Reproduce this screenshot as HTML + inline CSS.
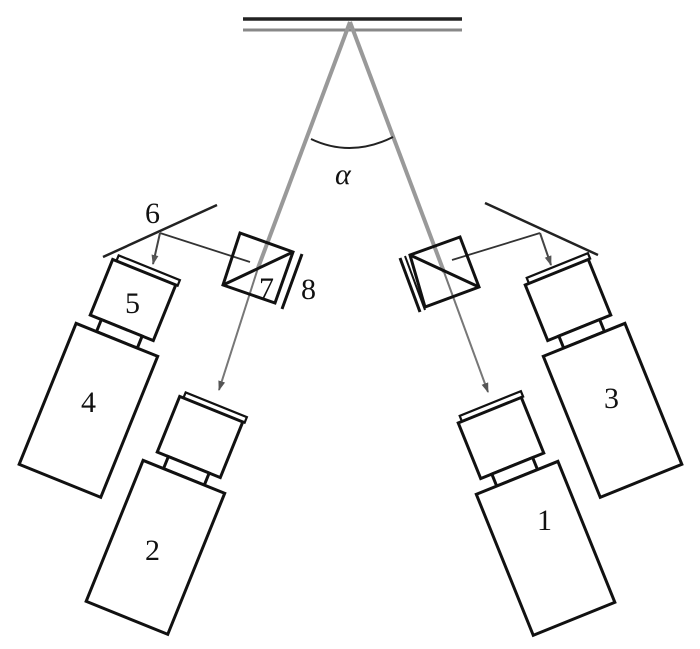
<!DOCTYPE html>
<html><head><meta charset="utf-8"><style>
html,body{margin:0;padding:0;background:#fff;width:700px;height:649px;overflow:hidden}
text{font-family:"Liberation Serif",serif;font-size:30px;fill:#111}
</style></head><body>
<svg width="700" height="649" viewBox="0 0 700 649" xmlns="http://www.w3.org/2000/svg">
<defs>
<marker id="ah" markerWidth="10" markerHeight="14" refX="9" refY="4" orient="auto" markerUnits="userSpaceOnUse" viewBox="0 0 10 8">
<path d="M0,0.5 L10,4 L0,7.5 Z" fill="#555"/></marker>
<g id="cam" fill="#fff" stroke="#111" stroke-width="3">
<rect x="-30" y="-36" width="66" height="6" stroke-width="2.2"/>
<rect x="-34" y="-30" width="68" height="60"/>
<rect x="-22" y="30" width="44" height="13"/>
<rect x="-44" y="43" width="88" height="152"/>
</g>
</defs>
<line x1="243" y1="19" x2="462" y2="19" stroke="#222" stroke-width="3.5"/>
<line x1="243" y1="30" x2="462" y2="30" stroke="#888" stroke-width="3"/>
<g transform="translate(200,437) rotate(22)"><use href="#cam"/></g>
<g transform="translate(133,300) rotate(22)"><use href="#cam"/></g>
<g transform="translate(501,438) rotate(-22)"><use href="#cam"/></g>
<g transform="translate(568,300) rotate(-22)"><use href="#cam"/></g>
<line x1="350" y1="22" x2="258" y2="268" stroke="#999" stroke-width="4"/>
<line x1="350" y1="22" x2="444" y2="272" stroke="#999" stroke-width="4"/>
<line x1="258" y1="268" x2="219" y2="390" stroke="#777" stroke-width="2" marker-end="url(#ah)"/>
<line x1="444" y1="272" x2="488" y2="392" stroke="#777" stroke-width="2" marker-end="url(#ah)"/>
<path d="M311,139 Q351,158 393,137" fill="none" stroke="#222" stroke-width="2"/>
<line x1="103" y1="257" x2="217" y2="205" stroke="#222" stroke-width="2.5"/>
<line x1="485" y1="203" x2="598" y2="255" stroke="#222" stroke-width="2.5"/>
<line x1="160" y1="233" x2="250" y2="262" stroke="#333" stroke-width="1.8"/>
<line x1="160" y1="233" x2="153" y2="264" stroke="#444" stroke-width="2" marker-end="url(#ah)"/>
<line x1="540" y1="233" x2="452" y2="260" stroke="#333" stroke-width="1.8"/>
<line x1="540" y1="233" x2="551" y2="265" stroke="#444" stroke-width="2" marker-end="url(#ah)"/>
<g stroke="#111" stroke-width="3" fill="none">
<polygon points="240,233 293,252 275,303 223,285"/>
<line x1="223" y1="285" x2="293" y2="252"/>
<line x1="302" y1="254" x2="282" y2="309"/>
<polygon points="410,255 460,237 479,287 425,307"/>
<line x1="410" y1="255" x2="479" y2="287"/>
<line x1="400" y1="258" x2="420" y2="312"/>
<line x1="405" y1="256" x2="425" y2="310" stroke-width="2"/>
</g>
<text x="145" y="223">6</text>
<text x="125" y="313">5</text>
<text x="259" y="298">7</text>
<text x="301" y="299">8</text>
<text x="81" y="412">4</text>
<text x="604" y="408">3</text>
<text x="145" y="560">2</text>
<text x="537" y="530">1</text>
<text x="335" y="184" font-style="italic">α</text>
</svg>
</body></html>
